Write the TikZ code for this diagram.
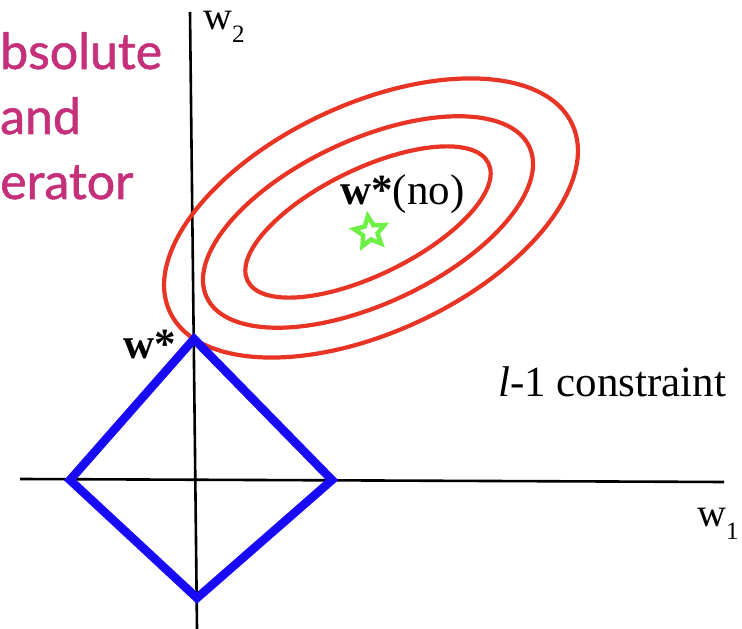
\documentclass[tikz,border=0pt]{standalone}
\usepackage{fontspec}
\setmainfont{Liberation Serif}
\newfontfamily\pinkfont{Lato}[FakeBold=1.2]
\usetikzlibrary{shapes.geometric}
\definecolor{ellred}{RGB}{232,52,36}
\definecolor{diamblue}{RGB}{25,10,245}
\definecolor{stargreen}{RGB}{110,240,70}
\definecolor{pinktext}{RGB}{197,48,122}
\tikzset{
  axis/.style={line width=2.6pt, black},
  contour/.style={line width=4.2pt, ellred},
  ball/.style={line width=8.6pt, diamblue, line join=miter},
  lbl/.style={inner sep=0pt, anchor=base west, font=\fontsize{43}{50}\selectfont},
  axlbl/.style={inner sep=0pt, anchor=base west, font=\fontsize{40}{46}\selectfont},
  pink/.style={inner sep=0pt, anchor=base west, text=pinktext, font=\pinkfont\fontsize{50}{56}\selectfont},
}
\begin{document}
\begin{tikzpicture}[x=1pt,y=1pt]
\useasboundingbox (0,0) rectangle (742,629);
% pink title fragments
\node[pink] (t1) at (0,560) {bsolute};
\node[pink] (t2) at (0,495) {and};
\node[pink] (t3) at (0,430) {erator};
% axes
\coordinate (ytop) at (190,617);
\coordinate (ybot) at (197,0);
\coordinate (xl) at (20,150);
\coordinate (xr) at (724,147);
\draw[axis] (ybot) -- (ytop);
\draw[axis] (xl) -- (xr);
\node[axlbl] (w2) at (203,599) {w\raisebox{-0.32em}{\fontsize{25}{25}\selectfont 2}};
\node[axlbl] (w1) at (697,102) {w\raisebox{-0.32em}{\fontsize{25}{25}\selectfont 1}};
% contours
\coordinate (c0) at (371,411);
\coordinate (c1) at (368,407);
\draw[contour, rotate around={25:(c0)}] (c0) ellipse [x radius=222, y radius=114];
\draw[contour, rotate around={25:(c1)}] (c1) ellipse [x radius=178, y radius=82];
\draw[contour, rotate around={26:(c1)}] (c1) ellipse [x radius=134, y radius=53];
% l1 ball
\coordinate (dt) at (194,290);
\coordinate (dl) at (70,149);
\coordinate (dr) at (332,149);
\coordinate (db) at (197,31);
\draw[ball] (dt) -- (dr) -- (db) -- (dl) -- cycle;
% star
\node[star, star points=5, star point ratio=2.1, minimum size=32pt, inner sep=0pt,
      draw=stargreen, line width=4.5pt, fill=white, rotate=8] (st) at (370,397) {};
% labels
\node[lbl] (wno) at (340,424) {\textbf{w*}(no)};
\node[lbl] (wstar) at (123,270) {\textbf{w*}};
\node[lbl] (cons) at (498,232) {\textit{l}-1 constraint};
\end{tikzpicture}
\end{document}
